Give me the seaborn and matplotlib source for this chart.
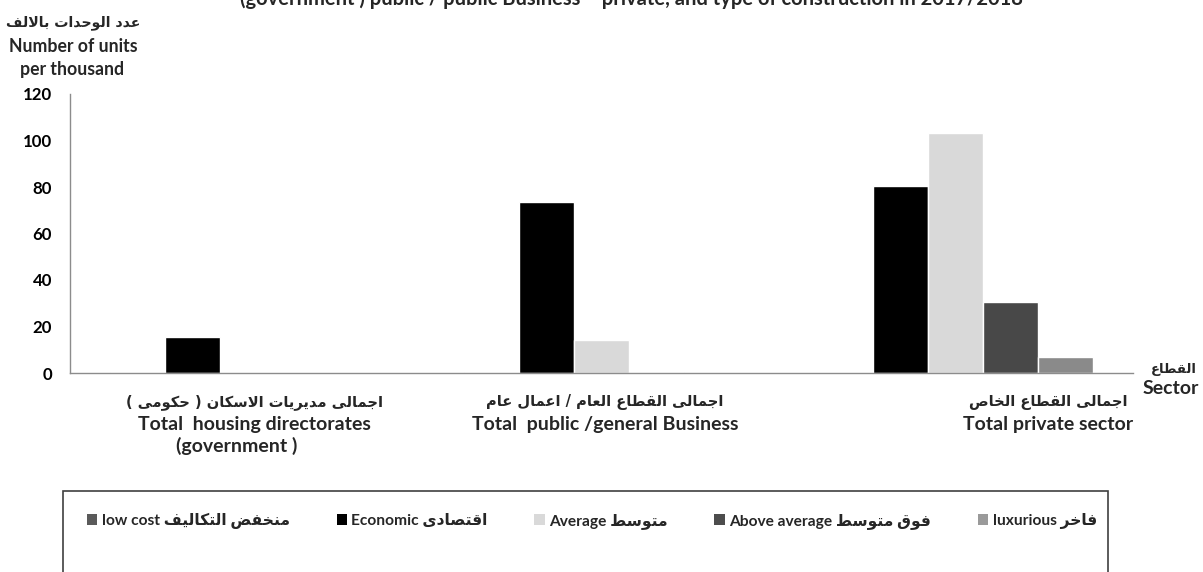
import matplotlib
matplotlib.use("Agg")
import matplotlib.pyplot as plt
from matplotlib.patches import Rectangle
import numpy as np
import pandas as pd
import seaborn as sns

# ---------------- data ----------------
sectors_ar = ["اجمالى مديريات الاسكان ( حكومى )",
              "اجمالى القطاع العام / اعمال عام",
              "اجمالى القطاع الخاص"]
sectors_en = ["Total  housing directorates\n(government )",
              "Total  public /general Business",
              "Total private sector"]
types_en = ["low cost", "Economic", "Average", "Above average", "luxurious"]
types_ar = ["منخفض التكاليف", "اقتصادى", "متوسط", "فوق متوسط", "فاخر"]

low_cost = [0.3, 0.3, 0.0]
economic = [15.5, 73.5, 80.3]
average = [0.0, 14.3, 103.2]
above_average = [0.0, 0.5, 30.4]
luxurious = [0.0, 0.2, 7.0]

yticks = [0, 20, 40, 60, 80, 100, 120]
title = "(government ) public / public Business \u2013 private, and type of construction in 2017/2018"
ylabel_ar = "عدد الوحدات بالالف"
ylabel_en = ["Number of units", "per thousand"]
xlabel_ar = "القطاع"
xlabel_en = "Sector"

# ---------------- Arabic shaping (presentation forms, visual order) ----------------
FORMS = {
    'ا': ('\uFE8D', '\uFE8E', None, None),
    'ب': ('\uFE8F', '\uFE90', '\uFE91', '\uFE92'),
    'ت': ('\uFE95', '\uFE96', '\uFE97', '\uFE98'),
    'ج': ('\uFE9D', '\uFE9E', '\uFE9F', '\uFEA0'),
    'ح': ('\uFEA1', '\uFEA2', '\uFEA3', '\uFEA4'),
    'خ': ('\uFEA5', '\uFEA6', '\uFEA7', '\uFEA8'),
    'د': ('\uFEA9', '\uFEAA', None, None),
    'ر': ('\uFEAD', '\uFEAE', None, None),
    'س': ('\uFEB1', '\uFEB2', '\uFEB3', '\uFEB4'),
    'ص': ('\uFEB9', '\uFEBA', '\uFEBB', '\uFEBC'),
    'ض': ('\uFEBD', '\uFEBE', '\uFEBF', '\uFEC0'),
    'ط': ('\uFEC1', '\uFEC2', '\uFEC3', '\uFEC4'),
    'ع': ('\uFEC9', '\uFECA', '\uFECB', '\uFECC'),
    'ف': ('\uFED1', '\uFED2', '\uFED3', '\uFED4'),
    'ق': ('\uFED5', '\uFED6', '\uFED7', '\uFED8'),
    'ك': ('\uFED9', '\uFEDA', '\uFEDB', '\uFEDC'),
    'ل': ('\uFEDD', '\uFEDE', '\uFEDF', '\uFEE0'),
    'م': ('\uFEE1', '\uFEE2', '\uFEE3', '\uFEE4'),
    'ن': ('\uFEE5', '\uFEE6', '\uFEE7', '\uFEE8'),
    'و': ('\uFEED', '\uFEEE', None, None),
    'ى': ('\uFEEF', '\uFEF0', None, None),
    'ي': ('\uFEF1', '\uFEF2', '\uFEF3', '\uFEF4'),
    'LA': ('\uFEFB', '\uFEFC', None, None),
}


def ar(text):
    chars, i = [], 0
    while i < len(text):
        if text[i] == 'ل' and i + 1 < len(text) and text[i + 1] == 'ا':
            chars.append('LA')
            i += 2
        else:
            chars.append(text[i])
            i += 1
    out = []
    for k, c in enumerate(chars):
        f = FORMS.get(c)
        if f is None:
            out.append(c)
            continue
        prev = FORMS.get(chars[k - 1]) if k > 0 else None
        nxt = FORMS.get(chars[k + 1]) if k + 1 < len(chars) else None
        jp = prev is not None and prev[2] is not None
        jn = f[2] is not None and nxt is not None
        if jp and jn:
            g = f[3]
        elif jp:
            g = f[1]
        elif jn:
            g = f[2]
        else:
            g = f[0]
        out.append(g)
    s = ''.join(out)[::-1]
    return s.translate(str.maketrans({'(': ')', ')': '('}))


# ---------------- frame ----------------
hue_labels = [f"{e} {ar(a)}" for e, a in zip(types_en, types_ar)]
series = [low_cost, economic, average, above_average, luxurious]
sector_keys = ["S1", "S2", "S3"]
df = pd.DataFrame({
    "sector": np.repeat([sector_keys], len(series), axis=0).ravel(),
    "type": np.repeat(hue_labels, len(sector_keys)),
    "value": np.concatenate(series),
})

bar_colors = ["#454545", "#000000", "#d9d9d9", "#484848", "#8a8a8a"]
legend_colors = ["#5a5a5a", "#000000", "#d9d9d9", "#4d4d4d", "#9a9a9a"]

sns.set_theme(style="white")
plt.rcParams["font.family"] = ["Lato", "DejaVu Sans"]
plt.rcParams["font.weight"] = "bold"
AR = ["DejaVu Sans"]

W, H = 1203, 572
fig = plt.figure(figsize=(W / 100, H / 100), dpi=100)
ax = fig.add_axes([70 / W, 1 - 373 / H, (1133 - 70) / W, (373 - 94) / H])

sns.barplot(data=df, x="sector", y="value", hue="type", order=sector_keys,
            hue_order=hue_labels, palette=bar_colors, saturation=1,
            width=0.775, gap=0, dodge=True, ax=ax, legend=False)

ax.set_xlim(-0.5, 2.5)
ax.set_ylim(0, 120)
ax.set_yticks(yticks)
ax.set_yticklabels([str(v) for v in yticks], fontsize=12.2, fontweight="bold")
ax.set_xticks([0.5, 1.5, 2.5])
ax.set_xticklabels([])
ax.set_xlabel("")
ax.set_ylabel("")
for side in ["top", "right"]:
    ax.spines[side].set_visible(False)
for side in ["left", "bottom"]:
    ax.spines[side].set_color("#8c8c8c")
    ax.spines[side].set_linewidth(1.0)
ax.tick_params(axis="y", direction="out", length=5, width=1.0,
               color="#8c8c8c", labelcolor="black", pad=8)
ax.tick_params(axis="x", direction="out", length=5, width=1.0,
               color="#8c8c8c", pad=0)

# category labels
trans = ax.get_xaxis_transform()
offs = [0.02, 0.01, 0.26]
for i, (a, e) in enumerate(zip(sectors_ar, sectors_en)):
    x = i + offs[i]
    ax.text(x, -0.104, ar(a), transform=trans, ha="center", va="center",
            fontsize=10.5, fontweight="bold", family=AR)
    for j, ln in enumerate(e.split("\n")):
        ax.text(x - 0.05 * j, -0.186 - 0.077 * j, ln, transform=trans,
                ha="center", va="center", fontsize=14, fontweight="bold")

# axis titles
fig.text(73 / W, 1 - 23 / H, ar(ylabel_ar), ha="center", va="center",
         fontsize=10.2, fontweight="bold", family=AR)
fig.text(73 / W, 1 - 46 / H, ylabel_en[0], ha="center", va="center",
         fontsize=12.7, fontweight="bold")
fig.text(72 / W, 1 - 69 / H, ylabel_en[1], ha="center", va="center",
         fontsize=12.7, fontweight="bold")
fig.text(1174 / W, 1 - 369 / H, ar(xlabel_ar), ha="center", va="center",
         fontsize=9.5, fontweight="bold", family=AR)
fig.text(1171 / W, 1 - 389 / H, xlabel_en, ha="center", va="center",
         fontsize=14, fontweight="bold")

# title (its top is cut off by the frame edge, as in the reference)
fig.text(631 / W, 1 - 5 / H, title, ha="center", va="baseline",
         fontsize=14.5, fontweight="bold")

# legend
handles = [plt.Rectangle((0, 0), 1, 1, facecolor=c, edgecolor="none") for c in legend_colors]
leg = fig.legend(handles, hue_labels, ncol=5, loc="center",
                 bbox_to_anchor=(592 / W, 1 - 521 / H), frameon=False,
                 handlelength=0.65, handleheight=0.65, handletextpad=0.3,
                 columnspacing=3.0, prop={"size": 11.2, "weight": "bold"})
fig.patches.append(Rectangle((63 / W, -0.1), (1108 - 63) / W, 0.1 + 1 - 491 / H,
                             transform=fig.transFigure, fill=False,
                             edgecolor="#404040", linewidth=1.2))

fig.savefig("out.png", dpi=100)
